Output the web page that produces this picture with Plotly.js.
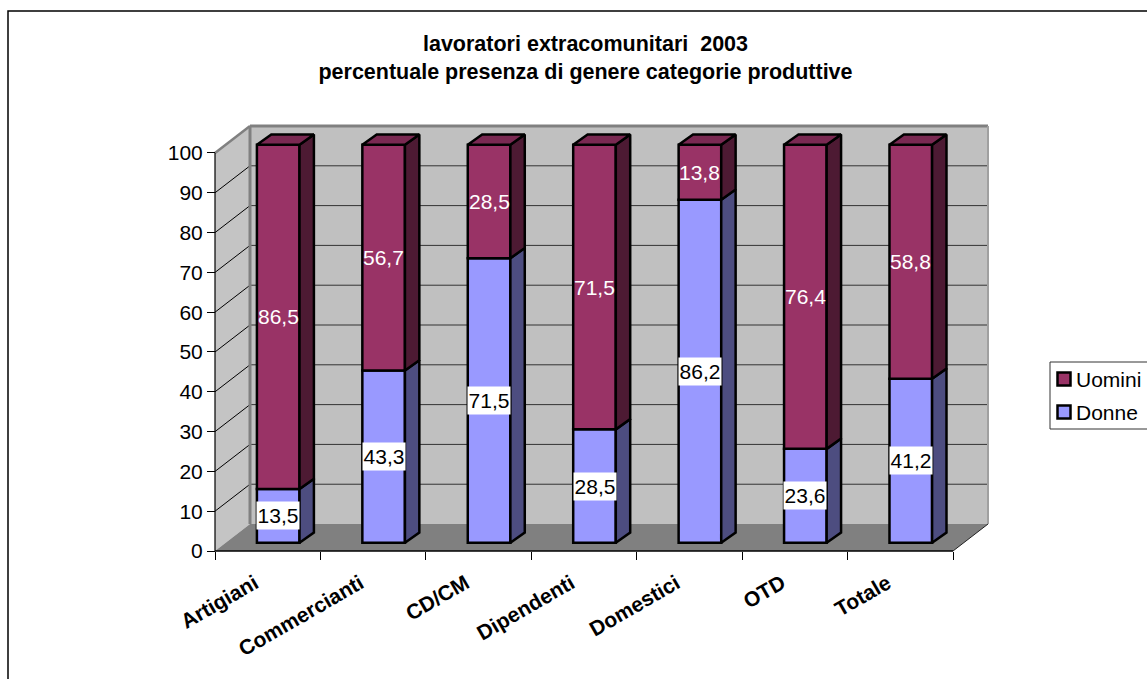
<!DOCTYPE html>
<html>
<head>
<meta charset="utf-8">
<script src="https://cdn.plot.ly/plotly-3.0.1.min.js"></script>
<style>html,body{margin:0;padding:0;background:#fff;overflow:hidden}#chart{width:1147px;height:679px}</style>
</head>
<body>
<div id="chart"></div>
<script>
// Stacked percentages by productive category
const categories = ['Artigiani', 'Commercianti', 'CD/CM', 'Dipendenti', 'Domestici', 'OTD', 'Totale'];
const donne = [13.5, 43.3, 71.5, 28.5, 86.2, 23.6, 41.2];
const uomini = [86.5, 56.7, 28.5, 71.5, 13.8, 76.4, 58.8];
const yTicks = [0, 10, 20, 30, 40, 50, 60, 70, 80, 90, 100];
const chartTitle = 'lavoratori extracomunitari\u00a0 2003<br>percentuale presenza di genere categorie produttive';

const FONT = 'Liberation Sans, Arial, sans-serif';
const W = 1147, H = 679;

// Scale of the front plane, in pixels per axis unit
const pxCat = 105.43, pxPct = 3.983;
const plotLeft = 215, plotBottom = 551, plotRight = 988, plotTop = 126, PAD = 4;

// Oblique projection of the box: depth of the whole floor and of each column
const floorDx = 35 / pxCat, floorDy = 27 / pxPct;
const barOffX = 10.5 / pxCat, barOffY = 8.2 / pxPct;
const barDx = 14.4 / pxCat, barDy = 10.3 / pxPct;
const barW = 42.6 / pxCat;

const centers = categories.map((_, i) => i + 0.5 + barOffX);

// One closed polygon per segment, joined with gaps for a single filled trace
function faces(builder) {
  const xs = [], ys = [];
  categories.forEach((_, i) => {
    builder(i).forEach(p => { xs.push(p[0]); ys.push(p[1]); });
    xs.push(null); ys.push(null);
  });
  return { x: xs, y: ys };
}
function sideFace(bases, values) {
  return faces(i => {
    const xr = centers[i] + barW / 2;
    const b = bases[i] + barOffY, t = bases[i] + values[i] + barOffY;
    return [[xr, b], [xr + barDx, b + barDy], [xr + barDx, t + barDy], [xr, t], [xr, b]];
  });
}
function topFace(bases, values) {
  return faces(i => {
    const xl = centers[i] - barW / 2, xr = centers[i] + barW / 2;
    const t = bases[i] + values[i] + barOffY;
    return [[xl, t], [xr, t], [xr + barDx, t + barDy], [xl + barDx, t + barDy], [xl, t]];
  });
}
function polyTrace(d, fill) {
  return { type: 'scatter', mode: 'lines', x: d.x, y: d.y, fill: 'toself', fillcolor: fill,
           line: { color: '#000', width: 2.5 }, hoverinfo: 'skip', showlegend: false };
}
function barTrace(name, bases, values, fill) {
  return { type: 'bar', name: name, x: centers, y: values, base: bases.map(b => b + barOffY), width: barW,
           marker: { color: fill, line: { color: '#000', width: 2.5 } }, showlegend: false };
}

const zeros = categories.map(() => 0);
const traces = [
  barTrace('Donne', zeros, donne, '#9999ff'),
  barTrace('Uomini', donne, uomini, '#993366'),
  polyTrace(sideFace(zeros, donne), '#4d4d80'),
  polyTrace(sideFace(donne, uomini), '#4d1a33'),
  polyTrace(topFace(donne, uomini), '#7a2952')
];

function poly(pts, fill, lineColor, lineWidth) {
  const path = pts.map((p, i) => (i ? 'L' : 'M') + p[0] + ',' + p[1]).join(' ') + ' Z';
  return { type: 'path', xref: 'x', yref: 'y', path: path, fillcolor: fill, layer: 'below',
           line: { color: lineColor || 'rgba(0,0,0,0)', width: lineWidth || 0 } };
}
function seg(x0, y0, x1, y1, color, width) {
  return { type: 'line', xref: 'x', yref: 'y', x0, y0, x1, y1, layer: 'below', line: { color, width } };
}

const nCat = categories.length;
const shapes = [
  // left wall, back wall and floor of the box
  poly([[0, 0], [0, 100], [floorDx, 100 + floorDy], [floorDx, floorDy]], '#c4c4c4'),
  poly([[floorDx, floorDy], [floorDx, 100 + floorDy], [nCat + floorDx, 100 + floorDy], [nCat + floorDx, floorDy]], '#c0c0c0'),
  poly([[0, 0], [nCat, 0], [nCat + floorDx, floorDy], [floorDx, floorDy]], '#808080')
];
// gridlines along the left wall and across the back wall
yTicks.filter(v => v > 0 && v < 100).forEach(v => {
  shapes.push(seg(0, v, floorDx, v + floorDy, '#000', 1));
  shapes.push(seg(floorDx, v + floorDy, nCat + floorDx, v + floorDy, '#333', 1));
});
// wall edges
shapes.push(seg(floorDx, floorDy, floorDx, 100 + floorDy, '#808080', 3));
shapes.push(seg(0, 100, floorDx, 100 + floorDy, '#808080', 2.5));
shapes.push(seg(floorDx, 100 + floorDy, nCat + floorDx, 100 + floorDy, '#808080', 3));
shapes.push(seg(nCat + floorDx, floorDy, nCat + floorDx, 100 + floorDy, '#a0a0a0', 2));
shapes.push(seg(nCat, 0, nCat + floorDx, floorDy, '#222', 1));
// front axis lines
shapes.push(seg(0, 0, 0, 100, '#000', 1.2));
shapes.push(seg(0, 0, nCat, 0, '#000', 1.5));

const plotW = (plotRight - plotLeft) + 2 * PAD;
const plotH = (plotBottom - plotTop) + 2 * PAD;
const px = x => (x - (plotLeft - PAD)) / plotW;
const py = y => ((plotBottom + PAD) - y) / plotH;

// outer frame of the chart, running off the right and bottom of the page
shapes.push({ type: 'rect', xref: 'paper', yref: 'paper', x0: px(8), x1: px(W + 20), y0: py(H + 20), y1: py(11),
              line: { color: '#000', width: 1.5 }, layer: 'below' });

// legend box
shapes.push({ type: 'rect', xref: 'paper', yref: 'paper', x0: px(1050), x1: px(W + 20), y0: py(429), y1: py(362),
              line: { color: '#333', width: 1 }, fillcolor: '#fff' });
const legendRows = [['Uomini', '#993366', 379], ['Donne', '#9999ff', 412]];
legendRows.forEach(r => {
  shapes.push({ type: 'rect', xref: 'paper', yref: 'paper', x0: px(1057.5), x1: px(1070.5), y0: py(r[2] + 6.5), y1: py(r[2] - 6.5),
                fillcolor: r[1], line: { color: '#000', width: 2.5 } });
});

const fmt = v => v.toFixed(1).replace('.', ',');
const annotations = [];
categories.forEach((_, i) => {
  annotations.push({ x: centers[i], y: donne[i] / 2 + barOffY, xref: 'x', yref: 'y', text: fmt(donne[i]), showarrow: false,
                     font: { family: FONT, size: 21, color: '#000' }, bgcolor: '#fff', width: 42, height: 27, borderpad: 0, align: 'center' });
  annotations.push({ x: centers[i], y: donne[i] + uomini[i] / 2 + barOffY, xref: 'x', yref: 'y', text: fmt(uomini[i]), showarrow: false,
                     font: { family: FONT, size: 21, color: '#fff' } });
});
legendRows.forEach(r => {
  annotations.push({ x: px(1076), y: py(r[2]), xref: 'paper', yref: 'paper', xanchor: 'left', yanchor: 'middle', text: r[0], showarrow: false,
                     font: { family: FONT, size: 21, color: '#000' }, borderpad: 0, borderwidth: 0 });
});

const layout = {
  width: W, height: H,
  paper_bgcolor: '#fff', plot_bgcolor: 'rgba(0,0,0,0)',
  margin: { l: plotLeft - PAD, r: W - plotRight - PAD, t: plotTop - PAD, b: H - plotBottom - PAD, autoexpand: false },
  showlegend: false,
  barmode: 'overlay',
  title: { text: chartTitle, font: { family: FONT, size: 21.5, color: '#000', weight: 700 },
           x: 585.5 / W, xanchor: 'center', y: 1 - 51 / H, yanchor: 'middle', yref: 'container' },
  xaxis: {
    range: [-PAD / pxCat, nCat + floorDx + PAD / pxCat],
    anchor: 'free', position: PAD / plotH,
    tickmode: 'array', tickvals: categories.map((_, i) => i + 0.5), ticktext: categories,
    tickangle: -30, ticks: 'outside', ticklen: 11, tickcolor: 'rgba(0,0,0,0)', ticklabelshift: -13,
    tickfont: { family: FONT, size: 21, color: '#000', weight: 700 },
    minor: { tickmode: 'array', tickvals: categories.map((_, i) => i).concat([nCat]), ticks: 'outside', ticklen: 8, tickcolor: '#000', tickwidth: 1, showgrid: false },
    showgrid: false, zeroline: false, showline: false, fixedrange: true
  },
  yaxis: {
    range: [-PAD / pxPct, 100 + floorDy + PAD / pxPct],
    anchor: 'free', position: PAD / plotW,
    tickmode: 'array', tickvals: yTicks, ticktext: yTicks.map(String),
    ticks: 'outside', ticklen: 8, tickcolor: '#000', tickwidth: 1,
    tickfont: { family: FONT, size: 21, color: '#000' },
    showgrid: false, zeroline: false, showline: false, fixedrange: true
  },
  shapes, annotations
};

Plotly.newPlot('chart', traces, layout, { displayModeBar: false, staticPlot: true });
</script>
</body>
</html>
